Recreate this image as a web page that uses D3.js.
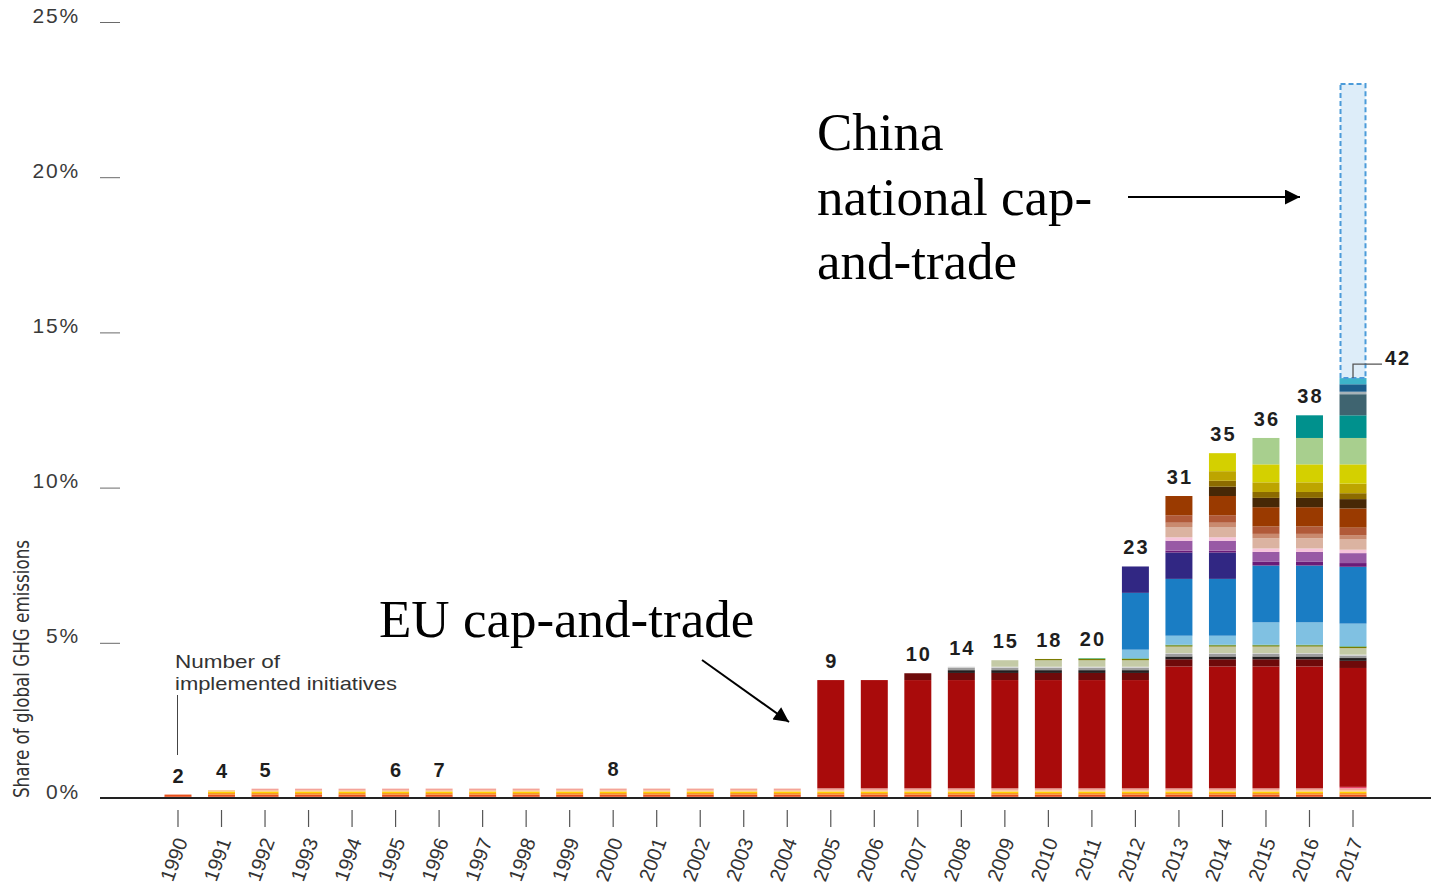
<!DOCTYPE html>
<html><head><meta charset="utf-8">
<script src="https://cdn.jsdelivr.net/npm/d3@7"></script>
<style>body{margin:0;background:#fff}svg{display:block}</style>
</head><body><svg id="c" width="1431" height="889"></svg>
<script>
// ---------- DATA ----------
const years = ["1990","1991","1992","1993","1994","1995","1996","1997","1998","1999","2000","2001","2002","2003","2004","2005","2006","2007","2008","2009","2010","2011","2012","2013","2014","2015","2016","2017"];
const countLabels = [2,4,5,null,null,6,7,null,null,null,8,null,null,null,null,9,null,10,14,15,18,20,23,31,35,36,38,42];
const yTicks = [0,5,10,15,20,25];

// share of global GHG emissions (%) per initiative, stacked bottom to top, 1990..2017
const init01 = [.04,.04,.04,.04,.04,.04,.04,.04,.04,.04,.04,.04,.04,.04,.04,.04,.04,.04,.04,.04,.04,.04,.04,.04,.04,.04,.04,.04];
const init02 = [.07,.07,.07,.07,.07,.07,.07,.07,.07,.07,.07,.07,.07,.07,.07,.07,.07,.07,.07,.07,.07,.07,.07,.07,.07,.07,.07,.07];
const init03 = [0,.05,.05,.05,.05,.05,.05,.05,.05,.05,.05,.05,.05,.05,.05,.05,.05,.05,.05,.05,.05,.05,.05,.05,.05,.05,.05,.05];
const init04 = [0,.05,.05,.05,.05,.05,.05,.05,.05,.05,.05,.05,.05,.05,.05,.05,.05,.05,.05,.05,.05,.05,.05,.05,.05,.05,.05,.05];
const init05 = [0,.04,.04,.04,.04,.04,.04,.04,.04,.04,.04,.04,.04,.04,.04,.04,.04,.04,.04,.04,.04,.04,.04,.04,.04,.04,.04,.04];
const init06 = [0,0,.05,.05,.05,.05,.05,.05,.05,.05,.05,.05,.05,.05,.05,.05,.05,.05,.05,.05,.05,.05,.05,.05,.05,.05,.05,.05];
const init07 = [0,0,0,0,0,.003,.003,.003,.003,.003,.003,.003,.003,.003,.003,.003,.003,.003,.003,.003,.003,.003,.003,.003,.003,.003,.003,.003];
const init08 = [0,0,0,0,0,0,.003,.003,.003,.003,.003,.003,.003,.003,.003,.003,.003,.003,.003,.003,.003,.003,.003,.003,.003,.003,.003,.003];
const init09 = [0,0,0,0,0,0,0,0,0,0,.003,.003,.003,.003,.003,.003,.003,.003,.003,.003,.003,.003,.003,.003,.003,.003,.003,.003];
const init10 = [0,0,0,0,0,0,0,0,0,0,0,0,0,0,0,0,0,0,0,0,0,0,0,0,0,0,0,.05];
const euETS  = [0,0,0,0,0,0,0,0,0,0,0,0,0,0,0,3.49,3.49,3.49,3.49,3.49,3.49,3.49,3.49,3.93,3.93,3.93,3.93,3.83];
const init12 = [0,0,0,0,0,0,0,0,0,0,0,0,0,0,0,0,0,.22,.23,.23,.23,.23,.23,.23,.23,.23,.23,.23];
const init13 = [0,0,0,0,0,0,0,0,0,0,0,0,0,0,0,0,0,0,.09,.09,.09,.09,.09,.09,.09,.09,.09,.09];
const init14 = [0,0,0,0,0,0,0,0,0,0,0,0,0,0,0,0,0,0,.08,.08,.08,.08,.08,.08,.08,.08,.08,.08];
const init15 = [0,0,0,0,0,0,0,0,0,0,0,0,0,0,0,0,0,0,.03,.03,.03,.03,.03,.03,.03,.03,.03,.03];
const init16 = [0,0,0,0,0,0,0,0,0,0,0,0,0,0,0,0,0,0,0,.21,.21,.21,.21,.21,.21,.21,.21,.21];
const init17 = [0,0,0,0,0,0,0,0,0,0,0,0,0,0,0,0,0,0,0,0,.04,.04,.04,.04,.04,.04,.04,.04];
const init18 = [0,0,0,0,0,0,0,0,0,0,0,0,0,0,0,0,0,0,0,0,0,.02,.02,.02,.02,.02,.02,.02];
const init19 = [0,0,0,0,0,0,0,0,0,0,0,0,0,0,0,0,0,0,0,0,0,0,.28,.29,.29,.72,.72,.73];
const init20 = [0,0,0,0,0,0,0,0,0,0,0,0,0,0,0,0,0,0,0,0,0,0,1.83,1.83,1.83,1.83,1.83,1.83];
const init21 = [0,0,0,0,0,0,0,0,0,0,0,0,0,0,0,0,0,0,0,0,0,0,.85,.85,.85,0,0,0];
const init22 = [0,0,0,0,0,0,0,0,0,0,0,0,0,0,0,0,0,0,0,0,0,0,0,.06,.06,.12,.12,.12];
const init23 = [0,0,0,0,0,0,0,0,0,0,0,0,0,0,0,0,0,0,0,0,0,0,0,.32,.32,.32,.32,.32];
const init24 = [0,0,0,0,0,0,0,0,0,0,0,0,0,0,0,0,0,0,0,0,0,0,0,.11,.11,.11,.11,.11];
const init25 = [0,0,0,0,0,0,0,0,0,0,0,0,0,0,0,0,0,0,0,0,0,0,0,.33,.33,.33,.33,.33];
const init26 = [0,0,0,0,0,0,0,0,0,0,0,0,0,0,0,0,0,0,0,0,0,0,0,.14,.14,.14,.14,.14];
const init27 = [0,0,0,0,0,0,0,0,0,0,0,0,0,0,0,0,0,0,0,0,0,0,0,.24,.24,.24,.24,.24];
const init28 = [0,0,0,0,0,0,0,0,0,0,0,0,0,0,0,0,0,0,0,0,0,0,0,.62,.62,.62,.62,.62];
const init29 = [0,0,0,0,0,0,0,0,0,0,0,0,0,0,0,0,0,0,0,0,0,0,0,0,.30,.30,.30,.30];
const init30 = [0,0,0,0,0,0,0,0,0,0,0,0,0,0,0,0,0,0,0,0,0,0,0,0,.19,.19,.19,.19];
const init31 = [0,0,0,0,0,0,0,0,0,0,0,0,0,0,0,0,0,0,0,0,0,0,0,0,.31,.31,.31,.31];
const init32 = [0,0,0,0,0,0,0,0,0,0,0,0,0,0,0,0,0,0,0,0,0,0,0,0,.58,.58,.58,.62];
const init33 = [0,0,0,0,0,0,0,0,0,0,0,0,0,0,0,0,0,0,0,0,0,0,0,0,0,.85,.85,.85];
const init34 = [0,0,0,0,0,0,0,0,0,0,0,0,0,0,0,0,0,0,0,0,0,0,0,0,0,0,.73,.73];
const init35 = [0,0,0,0,0,0,0,0,0,0,0,0,0,0,0,0,0,0,0,0,0,0,0,0,0,0,0,.68];
const init36 = [0,0,0,0,0,0,0,0,0,0,0,0,0,0,0,0,0,0,0,0,0,0,0,0,0,0,0,.08];
const init37 = [0,0,0,0,0,0,0,0,0,0,0,0,0,0,0,0,0,0,0,0,0,0,0,0,0,0,0,.24];
const init38 = [0,0,0,0,0,0,0,0,0,0,0,0,0,0,0,0,0,0,0,0,0,0,0,0,0,0,0,.20];
const chinaETS = [0,0,0,0,0,0,0,0,0,0,0,0,0,0,0,0,0,0,0,0,0,0,0,0,0,0,0,9.47];

const layerValues = [init01,init02,init03,init04,init05,init06,init07,init08,init09,init10,euETS,init12,init13,init14,init15,init16,init17,init18,init19,init20,init21,init22,init23,init24,init25,init26,init27,init28,init29,init30,init31,init32,init33,init34,init35,init36,init37,init38,chinaETS];
const layerColors = ["#b81d24","#e8501c","#f7941d","#ffd100","#f9c08a","#f4a49a","#f6b4a4","#f2c9a0","#f7d7b0","#e8436b","#a90b0b","#6e0a0a","#231f20","#9d9d9d","#d3d3d3","#c4caa6","#7b7b00","#2e9d4b","#80c1e2","#1a7dc4","#312783","#6a1b78","#985aa5","#f6c4db","#dbb3a1","#c98a6f","#b15a39","#9a3a00","#472806","#8c6b00","#bda500","#d4d000","#a8cf8e","#00918d","#3f6470","#a7b3b8","#1b5d8b","#3db3c9","#ddedf9"];

// ---------- CHART ----------
const svg = d3.select("#c");
const keys = layerValues.map((v,i)=>"k"+i);
const rows = years.map((yr,j)=>{const o={year:yr}; keys.forEach((k,i)=>o[k]=layerValues[i][j]); return o;});
const series = d3.stack().keys(keys)(rows);

const x = d3.scaleBand().domain(years).range([164.5,1366.5]).paddingInner(0.38).paddingOuter(0);
const y = d3.scaleLinear().domain([0,25]).range([798,22]);
const bw = x.bandwidth();

// y axis
const ya = svg.append("g").attr("transform","translate(120,0)")
  .call(d3.axisLeft(y).tickValues(yTicks).tickFormat(d=>d+"%").tickSize(20).tickPadding(20));
ya.select(".domain").remove();
ya.selectAll(".tick line").attr("stroke","#6a6a6a").attr("stroke-width",1);
ya.selectAll(".tick text").attr("fill","#3a3a3a").attr("font-family","Liberation Sans, Arial, sans-serif")
  .attr("font-size",21).attr("letter-spacing","1.8px").attr("dy","0.0em");

// bars
const chinaIdx = keys.length-1;
series.forEach((s,i)=>{
  if(i===chinaIdx) return;
  svg.append("g").attr("fill",layerColors[i]).selectAll("rect")
    .data(s.filter(d=>d[1]-d[0]>0)).join("rect")
    .attr("x",d=>x(d.data.year)).attr("width",bw)
    .attr("y",d=>y(d[1])).attr("height",d=>y(d[0])-y(d[1]));
});
// China dashed block
svg.append("g").selectAll("rect").data(series[chinaIdx].filter(d=>d[1]-d[0]>0)).join("rect")
  .attr("x",d=>x(d.data.year)+1).attr("width",bw-2)
  .attr("y",d=>y(d[1])).attr("height",d=>y(d[0])-y(d[1]))
  .attr("fill",layerColors[chinaIdx]).attr("stroke","#4b9bd9").attr("stroke-width",2).attr("stroke-dasharray","5,3");

// baseline
svg.append("line").attr("x1",100).attr("x2",1431).attr("y1",y(0)).attr("y2",y(0)).attr("stroke","#222").attr("stroke-width",2);

// x axis
const xa = svg.append("g").attr("transform","translate(0,810)")
  .call(d3.axisBottom(x).tickSize(17).tickPadding(0));
xa.select(".domain").remove();
xa.selectAll(".tick line").attr("stroke","#555").attr("stroke-width",1.2);
xa.selectAll(".tick text").attr("fill","#333").attr("font-family","Liberation Sans, Arial, sans-serif").attr("font-size",20)
  .attr("text-anchor","end").attr("dy",null).attr("y",null)
  .attr("transform","translate(10,31) rotate(-70)");

// totals for labels (without China)
const tops = rows.map(r=>keys.slice(0,chinaIdx).reduce((a,k)=>a+r[k],0));
const lab = svg.append("g").attr("font-family","Liberation Sans, Arial, sans-serif").attr("font-weight","bold")
  .attr("font-size",20).attr("fill","#1e1e1e").attr("text-anchor","middle").attr("letter-spacing","2px");
years.forEach((yr,j)=>{
  const c = countLabels[j]; if(c==null) return;
  if(j===years.length-1){
    const cx = x(yr)+bw/2, ty = y(tops[j]);
    svg.append("polyline").attr("points",`${cx},${ty} ${cx},${ty-14} ${cx+29},${ty-14}`).attr("fill","none").attr("stroke","#555").attr("stroke-width",1.3);
    lab.append("text").attr("x",cx+45).attr("y",ty-13).text(c);
  } else {
    lab.append("text").attr("x",x(yr)+bw/2+1).attr("y",y(tops[j])-12).text(c);
  }
});

// y title
svg.append("text").attr("transform","translate(29,669) rotate(-90)").attr("text-anchor","middle")
  .attr("font-family","Liberation Sans Narrow, DejaVu Sans Condensed, Arial, sans-serif").attr("font-size",21).attr("fill","#333")
  .attr("textLength",258).attr("lengthAdjust","spacingAndGlyphs").text("Share of global GHG emissions");

// note
const note = svg.append("g").attr("font-family","Liberation Sans, Arial, sans-serif").attr("font-size",19).attr("fill","#333");
note.append("text").attr("x",175).attr("y",668).attr("textLength",105).attr("lengthAdjust","spacingAndGlyphs").text("Number of");
note.append("text").attr("x",175).attr("y",690).attr("textLength",222).attr("lengthAdjust","spacingAndGlyphs").text("implemented initiatives");
svg.append("line").attr("x1",177.5).attr("x2",177.5).attr("y1",695).attr("y2",755).attr("stroke","#444").attr("stroke-width",1);

// arrows
const defs = svg.append("defs");
defs.append("marker").attr("id","ah").attr("viewBox","0 0 10 10").attr("refX",10).attr("refY",5)
  .attr("markerWidth",16).attr("markerHeight",15).attr("markerUnits","userSpaceOnUse").attr("orient","auto")
  .append("path").attr("d","M0,0L10,5L0,10z").attr("fill","#000");
svg.append("line").attr("x1",1128).attr("y1",197).attr("x2",1300).attr("y2",197).attr("stroke","#000").attr("stroke-width",2.2).attr("marker-end","url(#ah)");
svg.append("line").attr("x1",702).attr("y1",660).attr("x2",789).attr("y2",722).attr("stroke","#000").attr("stroke-width",2).attr("marker-end","url(#ah)");

// annotations
const ann = svg.append("g").attr("font-family","Liberation Serif, Times New Roman, serif").attr("font-size",53).attr("fill","#000");
ann.append("text").attr("x",817).attr("y",150).text("China");
ann.append("text").attr("x",817).attr("y",215).text("national cap-");
ann.append("text").attr("x",817).attr("y",279).text("and-trade");
ann.append("text").attr("x",379).attr("y",637).text("EU cap-and-trade");
</script></body></html>
